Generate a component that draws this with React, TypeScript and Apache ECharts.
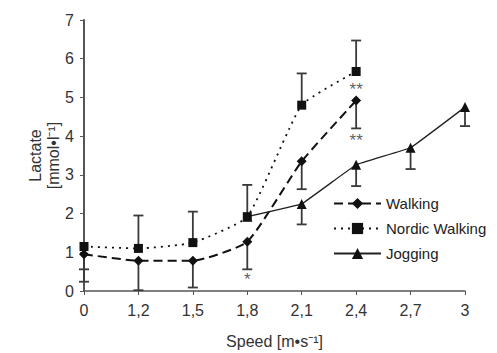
import React, { useEffect, useRef } from "react";
import * as echarts from "echarts";

const speeds = ["0", "1,2", "1,5", "1,8", "2,1", "2,4", "2,7", "3"];
const walking = [0.95, 0.78, 0.78, 1.27, 3.35, 4.92, null, null];
const nordic = [1.15, 1.1, 1.25, 1.92, 4.8, 5.67, null, null];
const jogging = [null, null, null, 1.92, 2.25, 3.26, 3.7, 4.75];
// error bar end values (the bar runs from the mean to this value)
const walkingErrEnd = [0.24, 0.02, 0.09, 0.56, 2.63, 4.2, null, null];
const nordicErrEnd = [0.56, 1.95, 2.05, 2.74, 5.62, 6.47, null, null];
const joggingErrEnd = [null, null, null, null, 1.72, 2.71, 3.15, 4.26];
const asterisks: [number, number, string][] = [
  [3, 0.3, "*"],
  [5, 5.2, "**"],
  [5, 3.9, "**"],
];

function errData(means: (number | null)[], ends: (number | null)[]) {
  const out: [number, number, number][] = [];
  means.forEach((m, i) => {
    const e = ends[i];
    if (m != null && e != null) out.push([i, m, e]);
  });
  return out;
}

const errRender = (params: any, api: any) => {
  const x = api.value(0);
  const p1 = api.coord([x, api.value(1)]);
  const p2 = api.coord([x, api.value(2)]);
  const hw = 5;
  const style = { stroke: "#3a3a3a", lineWidth: 1.8 };
  return {
    type: "group",
    children: [
      { type: "line", shape: { x1: p1[0], y1: p1[1], x2: p2[0], y2: p2[1] }, style },
      { type: "line", shape: { x1: p2[0] - hw, y1: p2[1], x2: p2[0] + hw, y2: p2[1] }, style },
    ],
  };
};

export default function App() {
  const ref = useRef<HTMLDivElement>(null);
  useEffect(() => {
    if (!ref.current) return;
    const chart = echarts.init(ref.current, null, { renderer: "svg" });
    const font = "'Liberation Sans', Arial, sans-serif";
    chart.setOption({
      animation: false,
      backgroundColor: "#fff",
      textStyle: { fontFamily: font },
      grid: {
        left: 76,
        right: 32,
        top: 12,
        bottom: 62,
        containLabel: false,
        outerBoundsMode: "none",
      },
      legend: {
        orient: "vertical",
        left: 325,
        top: 188,
        padding: 0,
        itemWidth: 47,
        itemHeight: 14,
        itemGap: 10,
        textStyle: { fontSize: 15, color: "#222", fontFamily: font },
        data: ["Walking", "Nordic Walking", "Jogging"],
      },
      xAxis: {
        type: "category",
        data: speeds,
        boundaryGap: false,
        name: "Speed [m•s⁻¹]",
        nameLocation: "middle",
        nameGap: 42,
        nameMoveOverlap: false,
        nameTextStyle: { fontSize: 16, color: "#333", fontFamily: font },
        axisLine: { lineStyle: { color: "#555", width: 1.5 } },
        axisTick: { show: true, length: 4, lineStyle: { color: "#555" }, alignWithLabel: true },
        axisLabel: { fontSize: 16, color: "#333", margin: 11, fontFamily: font },
        splitLine: { show: false },
      },
      yAxis: {
        type: "value",
        min: 0,
        max: 7,
        interval: 1,
        name: "Lactate\n[mmol•l⁻¹]",
        nameLocation: "middle",
        nameGap: 22,
        nameMoveOverlap: false,
        nameTextStyle: { fontSize: 16, color: "#333", fontFamily: font, lineHeight: 18 },
        axisLine: { show: true, lineStyle: { color: "#555", width: 2 } },
        axisTick: { show: true, length: 4, lineStyle: { color: "#555" } },
        axisLabel: { fontSize: 16, color: "#333", margin: 10, fontFamily: font },
        splitLine: { show: false },
      },
      series: [
        {
          name: "Walking",
          type: "line",
          data: walking,
          smooth: 0.15,
          symbol: "diamond",
          symbolSize: 10,
          itemStyle: { color: "#111" },
          lineStyle: { color: "#111", width: 2, type: [9, 5] },
          z: 3,
        },
        {
          name: "Nordic Walking",
          type: "line",
          data: nordic,
          smooth: 0.15,
          symbol: "rect",
          symbolSize: 9,
          itemStyle: { color: "#111" },
          lineStyle: { color: "#111", width: 1.8, type: [2, 5] },
          z: 3,
        },
        {
          name: "Jogging",
          type: "line",
          data: jogging,
          smooth: 0.05,
          symbol: "triangle",
          symbolSize: 10,
          itemStyle: { color: "#111" },
          lineStyle: { color: "#222", width: 1.3 },
          z: 3,
        },
        { type: "custom", renderItem: errRender, data: errData(walking, walkingErrEnd), z: 2 },
        { type: "custom", renderItem: errRender, data: errData(nordic, nordicErrEnd), z: 2 },
        { type: "custom", renderItem: errRender, data: errData(jogging, joggingErrEnd), z: 2 },
        {
          type: "scatter",
          data: asterisks.map((a) => [a[0], a[1], a[2]]),
          symbolSize: 0,
          label: {
            show: true,
            position: "inside",
            formatter: (p: any) => p.value[2],
            fontSize: 17,
            color: "#333",
            fontFamily: font,
          },
          z: 4,
        },
      ],
    });
    return () => chart.dispose();
  }, []);
  return <div ref={ref} style={{ width: 489, height: 345 }} />;
}
